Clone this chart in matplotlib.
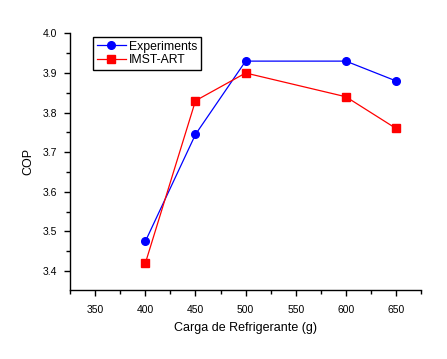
import matplotlib
matplotlib.use("Agg")
import matplotlib.pyplot as plt
from matplotlib.ticker import MultipleLocator

plt.rcParams['font.family'] = ['Liberation Sans', 'DejaVu Sans']

carga = [400, 450, 500, 600, 650]
cop_exp = [3.475, 3.745, 3.93, 3.93, 3.88]
cop_imst = [3.42, 3.83, 3.90, 3.84, 3.76]

fig = plt.figure(figsize=(4.47, 3.59), dpi=100)
ax = fig.add_axes([0.157, 0.192, 0.785, 0.715])

ax.plot(carga, cop_exp, color='blue', marker='o', markersize=5.5, lw=0.9, label='Experiments')
ax.plot(carga, cop_imst, color='red', marker='s', markersize=5.5, lw=0.9, label='IMST-ART')

ax.set_xlim(325, 675)
ax.set_ylim(3.352, 4.0)
ax.xaxis.set_major_locator(MultipleLocator(50))
ax.xaxis.set_minor_locator(MultipleLocator(25))
ax.yaxis.set_major_locator(MultipleLocator(0.1))
ax.yaxis.set_minor_locator(MultipleLocator(0.05))
ax.set_xticks([350, 400, 450, 500, 550, 600, 650])
ax.set_yticks([3.4, 3.5, 3.6, 3.7, 3.8, 3.9, 4.0])

for s in ['top', 'right']:
    ax.spines[s].set_visible(False)
for s in ['left', 'bottom']:
    ax.spines[s].set_linewidth(1.0)

ax.tick_params(which='major', direction='out', length=4.5, width=1, labelsize=7.5)
ax.tick_params(which='minor', direction='out', length=3, width=1)
ax.tick_params(axis='x', which='major', pad=6)
ax.tick_params(axis='y', which='major', pad=5)

ax.set_xlabel('Carga de Refrigerante (g)', fontsize=9, labelpad=5)
ax.set_ylabel('COP', fontsize=9, labelpad=6)

leg = ax.legend(loc='upper left', bbox_to_anchor=(0.048, 1.01), fontsize=8.8,
                fancybox=False, edgecolor='black', framealpha=1,
                handlelength=2.4, handletextpad=0.2, borderpad=0.3, labelspacing=0.15)
leg.get_frame().set_linewidth(1.0)

fig.savefig('out.png', dpi=100)
